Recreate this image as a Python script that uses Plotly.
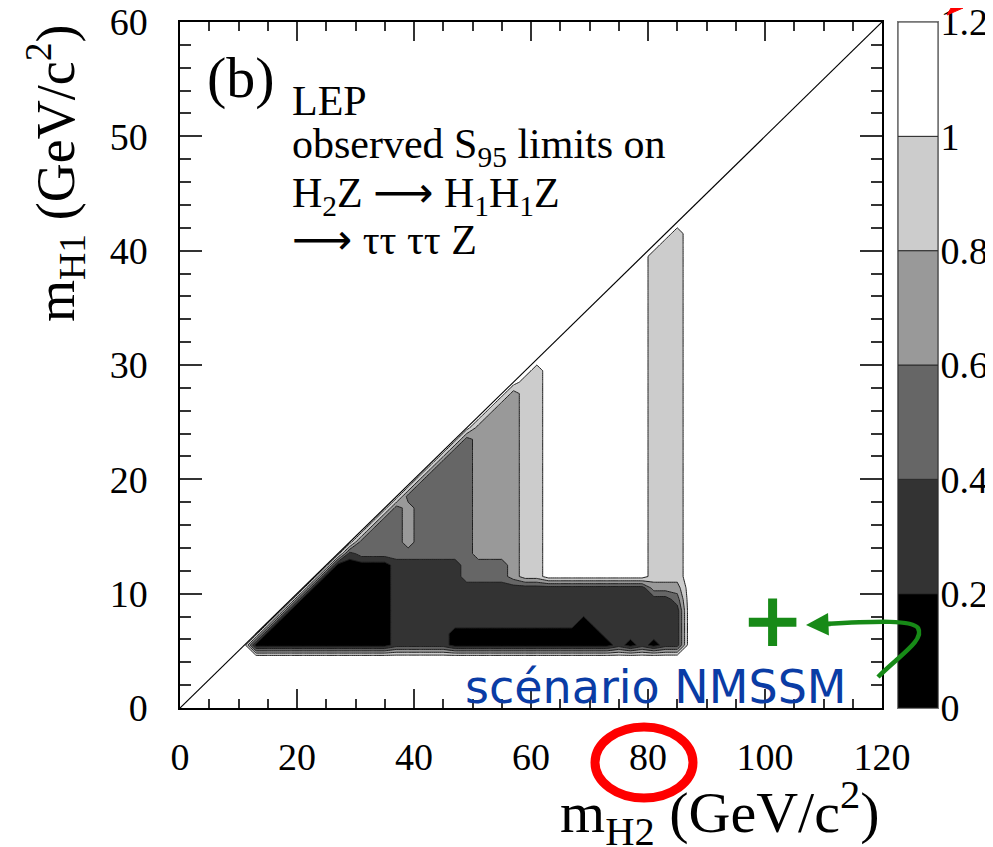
import plotly.graph_objects as go

# scan grid: m_H2 columns and m_H1 rows (GeV/c^2), padded out to the frame
mh2_grid = [0, 9, 11, 13, 15, 17, 19, 21, 23, 25, 27, 29, 31, 33, 35, 37, 39,
            41, 43, 45, 47, 49, 51, 53, 55, 57, 59, 61, 63, 65, 67, 69, 71, 73,
            75, 77, 79, 81, 83, 85, 87, 89, 120]
mh1_grid = [0, 4.5, 5.5, 6.5, 7.5, 8.5, 9.5, 10.5, 11.5, 12.5, 13.5, 14.5,
            15.5, 16.5, 17.5, 18.5, 19.5, 20.5, 21.5, 22.5, 23.5, 24.5, 25.5,
            26.5, 27.5, 28.5, 29.5, 30.5, 31.5, 32.5, 33.5, 34.5, 35.5, 36.5,
            37.5, 38.5, 39.5, 40.5, 41.5, 42.5, 43.5, 60]

# observed S95, one character per cell.
# rows from the top (m_H1 = 60) down to m_H1 = 0
# 0: <0.2, 1: 0.2-0.4, 2: 0.4-0.6, 3: 0.6-0.8, 4: 0.8-1, 5: >1 / not covered
s95_rows = [
    "5555555555555555555555555555555555555555555",
    "5555555555555555555555555555555555555555555",
    "5555555555555555555555555555555555555555555",
    "5555555555555555555555555555555555555554555",
    "5555555555555555555555555555555555555544555",
    "5555555555555555555555555555555555555444555",
    "5555555555555555555555555555555555555444555",
    "5555555555555555555555555555555555555444555",
    "5555555555555555555555555555555555555444555",
    "5555555555555555555555555555555555555444555",
    "5555555555555555555555555555555555555444555",
    "5555555555555555555555555555555555555444555",
    "5555555555555555555555555555555555555444555",
    "5555555555555555555555555555555555555444555",
    "5555555555555555555555555555555555555444555",
    "5555555555555555555555555554555555555444555",
    "5555555555555555555555555544555555555444555",
    "5555555555555555555555555344555555555444555",
    "5555555555555555555555553344555555555444555",
    "5555555555555555555555533344555555555444555",
    "5555555555555555555555333344555555555444555",
    "5555555555555555555552333344555555555444555",
    "5555555555555555555522333344555555555444555",
    "5555555555555555555222333344555555555444555",
    "5555555555555555552222333344555555555444555",
    "5555555555555555522222333344555555555444555",
    "5555555555555555222222333344555555555444555",
    "5555555555555552322222333344555555555444555",
    "5555555555555522322222333344555555555444555",
    "5555555555555222322222333344555555555444555",
    "5555555555552222322222333344555555555444555",
    "5555555555512222222222333344555555555444555",
    "5555555555000001111112222344555555555444555",
    "5555555550000001111112222344555555555444555",
    "5555555500000001111111111111111111111333555",
    "5555555000000001111111111111111111111112555",
    "5555550000000001111111111111111111111111555",
    "5555500000000001111111111111111011111111555",
    "5555000000000001111100000000000001111111555",
    "5550000000000001111100000000000000101011555",
    "5555555555555555555555555555555555555555555",
    "5555555555555555555555555555555555555555555",
]
s95_code_value = {"0": 0.1, "1": 0.3, "2": 0.5, "3": 0.7, "4": 0.9, "5": 1.1}

band_colors = ["#000000", "#333333", "#666666", "#999999", "#cccccc", "#ffffff"]
cbar_ticks = [0, 0.2, 0.4, 0.6, 0.8, 1.0, 1.2]
cbar_labels = ["0", "0.2", "0.4", "0.6", "0.8", "1", "1.2"]

# kinematic limit m_H1 = m_H2 / 2
kin_mh2 = [0, 120]
kin_mh1 = [0, 60]

# NMSSM benchmark point
nmssm_mh2 = [101.3]
nmssm_mh1 = [7.5]

for k, r in enumerate(s95_rows):
    assert len(r) == len(mh2_grid), (k, len(r))
assert len(s95_rows) == len(mh1_grid)

z = [[s95_code_value[c] for c in row] for row in reversed(s95_rows)]

SERIF = "Liberation Serif"
GREEN = "#178a17"
ARROW = '<span style="font-family:DejaVu Sans">\u27f6</span>'
# page body adds an 8px offset, so the figure is laid out 8px smaller
OFF = 8
W, H = 993 - OFF, 847 - OFF
X0, Y0, X1, Y1 = 180, 22, 882, 708          # plot frame in screen pixels
L, T = X0 - OFF, Y0 - OFF
PAPER_W = W - L
PH = Y1 - Y0
B = H - T - PH


def px(xs):
    return (xs - X0) / PAPER_W


def py(ys):
    return (Y1 - ys) / PH


fig = go.Figure()

fig.add_trace(go.Contour(
    x=mh2_grid, y=mh1_grid, z=z,
    autocontour=False,
    contours=dict(start=0.2, end=1.0, size=0.2, coloring="fill"),
    colorscale=[[i / 5, c] for i, c in enumerate(band_colors)],
    line=dict(color="#1e1e1e", width=1, smoothing=0),
    showscale=False,
    hoverinfo="skip",
))

fig.add_trace(go.Scatter(
    x=kin_mh2, y=kin_mh1, mode="lines",
    line=dict(color="black", width=1.2),
    hoverinfo="skip",
))

fig.add_trace(go.Scatter(
    x=nmssm_mh2, y=nmssm_mh1, mode="markers",
    marker=dict(symbol="cross-thin", size=34,
                line=dict(color=GREEN, width=9)),
    hoverinfo="skip",
))

# colour scale drawn as stacked bands on its own axis
fig.add_trace(go.Bar(
    x=[0] * len(band_colors),
    y=[b - a for a, b in zip(cbar_ticks[:-1], cbar_ticks[1:])],
    base=cbar_ticks[:-1],
    width=1,
    marker=dict(color=band_colors, line=dict(color="#2a2a2a", width=1)),
    xaxis="x2", yaxis="y2",
    hoverinfo="skip",
))

axis_common = dict(
    showgrid=False, zeroline=False,
    showline=True, linecolor="black", linewidth=1.5, mirror="allticks",
    ticks="inside", tickcolor="#333333", tickwidth=1.5,
    ticklabeloverflow="allow",
    tickfont=dict(family=SERIF, size=38, color="black"),
)

fig.update_layout(
    xaxis=dict(domain=[0, px(X1)], range=[0, 120], tick0=0, dtick=20,
               ticklen=19, ticklabelstandoff=15,
               minor=dict(dtick=5, ticks="inside", ticklen=9,
                          tickcolor="#333333", tickwidth=1.5),
               **axis_common),
    yaxis=dict(domain=[0, 1], range=[0, 60], tick0=0, dtick=10,
               ticklen=22, ticklabelstandoff=23,
               minor=dict(dtick=2, ticks="inside", ticklen=11,
                          tickcolor="#333333", tickwidth=1.5),
               **axis_common),
    xaxis2=dict(domain=[px(898), px(938)], range=[-0.5, 0.5], anchor="y2",
                showticklabels=False, showgrid=False, zeroline=False,
                showline=True, linecolor="#777777", linewidth=1, mirror=True,
                ticks=""),
    yaxis2=dict(domain=[0, 1], range=[0, 1.2], anchor="x2", side="right",
                tickmode="array", tickvals=cbar_ticks, ticktext=cbar_labels,
                ticks="", showgrid=False, zeroline=False,
                showline=True, linecolor="#777777", linewidth=1, mirror=True,
                ticklabelstandoff=-6, ticklabeloverflow="allow",
                tickfont=dict(family=SERIF, size=38, color="black")),
    barmode="overlay",
)

annotations = [
    dict(text="m<sub>H2</sub> (GeV/c<sup>2</sup>)", x=px(882), xanchor="right",
         y=py(813), yanchor="middle", font=dict(size=58)),
    dict(text="m<sub>H1</sub> (GeV/c<sup>2</sup>)", textangle=-90,
         x=px(55), xanchor="center", y=1.0, yanchor="top",
         font=dict(size=54)),
    dict(text="(b)", x=px(205), xanchor="left", y=py(78), yanchor="middle",
         font=dict(size=58)),
    dict(text="LEP", x=px(290), xanchor="left", y=py(101), yanchor="middle"),
    dict(text="observed S<sub>95</sub> limits on", x=px(290), xanchor="left",
         y=py(147), yanchor="middle"),
    dict(text="H<sub>2</sub>Z " + ARROW + " H<sub>1</sub>H<sub>1</sub>Z",
         x=px(290), xanchor="left", y=py(195), yanchor="middle"),
    dict(text=ARROW + " \u03c4\u03c4 \u03c4\u03c4 Z", x=px(290), xanchor="left",
         y=py(240), yanchor="middle"),
    dict(text="sc\u00e9nario NMSSM", x=px(463), xanchor="left", y=py(687),
         yanchor="middle",
         font=dict(family="DejaVu Sans", size=46, color="#0a3ca5")),
    # arrow head of the green pointer
    dict(text="", x=px(806), y=py(625), ax=26, ay=-1, showarrow=True,
         arrowhead=2, arrowsize=1, arrowwidth=4.5, arrowcolor=GREEN,
         standoff=0),
]
for a in annotations:
    a.setdefault("xref", "paper")
    a.setdefault("yref", "paper")
    a.setdefault("showarrow", False)
    a.setdefault("font", dict(size=42))
    a["font"].setdefault("family", SERIF)
    a["font"].setdefault("color", "black")

green_path = "M {} {} C {} {} {} {} {} {} C {} {} {} {} {} {}".format(
    px(878), py(677), px(900), py(655), px(925), py(640), px(918), py(628),
    px(912), py(620), px(880), py(621), px(824), py(624))
red_tip = "M {} {} L {} {} L {} {} Z".format(
    px(947), py(15), px(963), py(8), px(951), py(8))

shapes = [
    dict(type="path", path=green_path, xref="paper", yref="paper",
         line=dict(color=GREEN, width=4.5)),
    dict(type="circle", xref="paper", yref="paper",
         x0=px(595), x1=px(693), y0=py(798), y1=py(727),
         line=dict(color="#ff0000", width=9)),
    dict(type="path", path=red_tip, xref="paper", yref="paper",
         fillcolor="#ff0000", line=dict(color="#ff0000", width=1)),
]

fig.update_layout(
    width=W, height=H,
    margin=dict(l=L, r=0, t=T, b=B, autoexpand=False),
    paper_bgcolor="white", plot_bgcolor="white",
    showlegend=False,
    font=dict(family=SERIF, color="black"),
    annotations=annotations,
    shapes=shapes,
)

fig.write_html("out.html")
